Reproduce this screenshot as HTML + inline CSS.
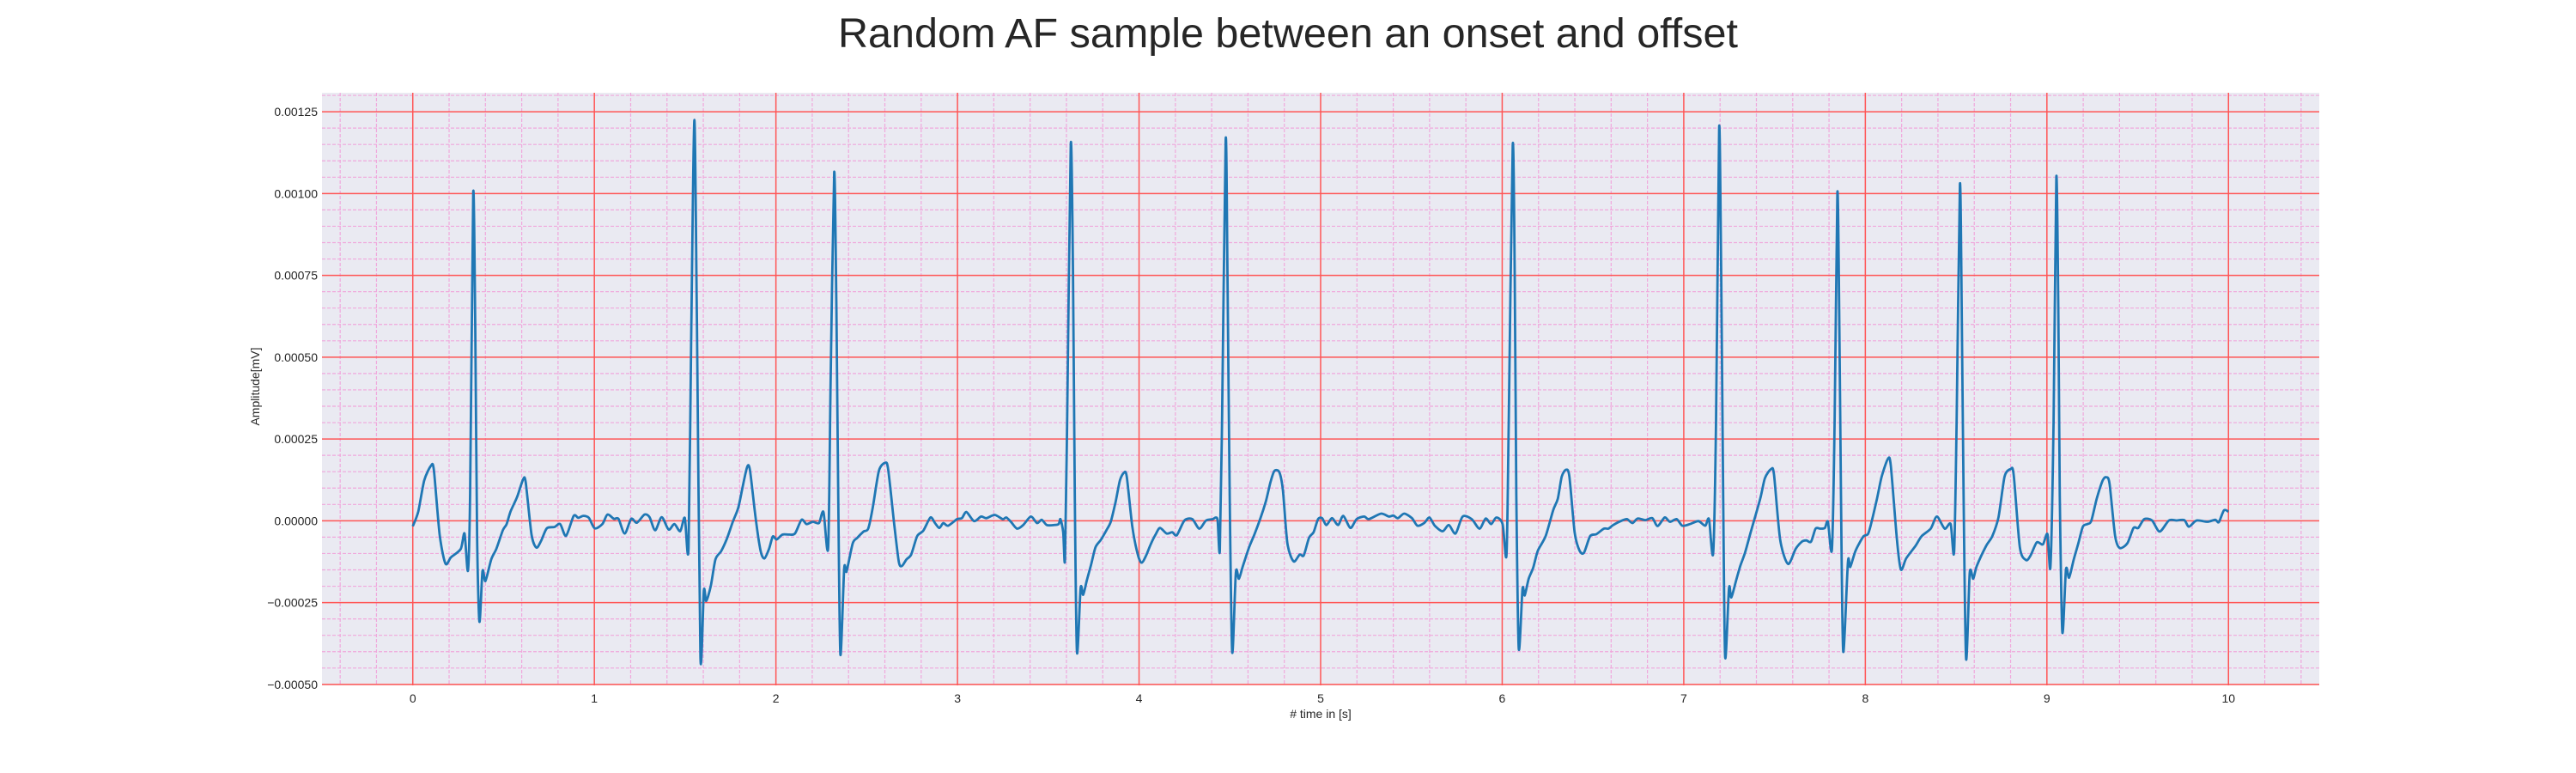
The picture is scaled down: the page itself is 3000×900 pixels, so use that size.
<!DOCTYPE html>
<html><head><meta charset="utf-8"><style>
html,body{margin:0;padding:0;background:#fff;}
svg{display:block;font-family:"Liberation Sans",sans-serif;}
</style></head><body>
<svg id="chart" width="3000" height="900" viewBox="0 0 3000 900" xmlns="http://www.w3.org/2000/svg">
<text x="1500" y="55" text-anchor="middle" font-size="48.5" fill="#262626">Random AF sample between an onset and offset</text>
<rect x="375" y="108" width="2326" height="690" fill="#eaeaf2"/>
<g id="minor-grid"></g>
<g id="major-grid"></g>
<g id="x-ticks"></g>
<g id="y-ticks"></g>
<g id="series"></g>
<text x="1538" y="836" text-anchor="middle" font-size="14" fill="#262626"># time in [s]</text>
<text x="302" y="450" text-anchor="middle" font-size="14" fill="#262626" transform="rotate(-90 302 450)">Amplitude[mV]</text>
</svg>
<script>
// time in seconds
const times = [0,0.03,0.063,0.1,0.116,0.148,0.18,0.21,0.264,0.285,0.304,0.316,0.333,0.344,0.354,0.367,0.384,0.40,0.432,0.46,0.496,0.517,0.538,0.574,0.608,0.622,0.654,0.681,0.707,0.738,0.78,0.812,0.844,0.886,0.911,0.939,0.97,1.002,1.044,1.072,1.108,1.133,1.167,1.203,1.234,1.276,1.304,1.335,1.371,1.409,1.441,1.473,1.498,1.519,1.534,1.551,1.565,1.584,1.603,1.616,1.641,1.667,1.698,1.73,1.762,1.793,1.819,1.842,1.857,1.888,1.916,1.937,1.962,1.983,2.004,2.036,2.072,2.105,2.141,2.169,2.203,2.237,2.262,2.288,2.301,2.321,2.333,2.343,2.355,2.376,2.389,2.423,2.448,2.482,2.508,2.533,2.567,2.601,2.618,2.652,2.677,2.694,2.719,2.745,2.778,2.812,2.851,2.876,2.9,2.922,2.948,2.998,3.024,3.049,3.091,3.13,3.159,3.205,3.249,3.269,3.294,3.328,3.362,3.404,3.438,3.464,3.492,3.531,3.557,3.567,3.582,3.592,3.604,3.624,3.636,3.646,3.658,3.678,3.692,3.712,3.734,3.76,3.79,3.819,3.844,3.87,3.895,3.917,3.932,3.963,3.993,4.014,4.039,4.064,4.09,4.115,4.152,4.183,4.208,4.25,4.293,4.332,4.369,4.406,4.423,4.433,4.445,4.457,4.477,4.487,4.499,4.513,4.533,4.55,4.572,4.606,4.636,4.67,4.699,4.724,4.745,4.772,4.792,4.817,4.851,4.885,4.907,4.936,4.961,4.986,5.008,5.032,5.063,5.096,5.125,5.164,5.198,5.24,5.266,5.333,5.376,5.401,5.426,5.46,5.503,5.533,5.57,5.599,5.629,5.672,5.706,5.743,5.782,5.832,5.875,5.909,5.939,5.968,6.002,6.024,6.036,6.058,6.069,6.078,6.091,6.112,6.124,6.146,6.171,6.196,6.239,6.281,6.306,6.328,6.352,6.37,6.399,6.425,6.45,6.484,6.518,6.56,6.585,6.611,6.653,6.687,6.717,6.746,6.788,6.827,6.856,6.895,6.924,6.961,6.992,7.034,7.081,7.118,7.139,7.162,7.178,7.195,7.206,7.217,7.228,7.249,7.262,7.288,7.311,7.337,7.371,7.421,7.447,7.481,7.497,7.531,7.574,7.616,7.65,7.675,7.701,7.726,7.751,7.777,7.794,7.816,7.831,7.846,7.856,7.866,7.878,7.904,7.917,7.946,7.988,8.014,8.03,8.064,8.09,8.124,8.14,8.174,8.196,8.225,8.276,8.31,8.36,8.394,8.437,8.47,8.489,8.503,8.521,8.531,8.541,8.555,8.575,8.594,8.614,8.665,8.699,8.733,8.767,8.8,8.817,8.851,8.885,8.91,8.944,8.978,9.003,9.02,9.037,9.052,9.063,9.071,9.085,9.105,9.122,9.147,9.173,9.198,9.223,9.244,9.274,9.308,9.328,9.345,9.376,9.401,9.443,9.477,9.503,9.536,9.579,9.621,9.672,9.714,9.757,9.782,9.824,9.884,9.927,9.947,9.975,10.0];
// amplitude in units of 1e-4 mV
const amps = [-0.17,0.28,1.23,1.68,1.55,-0.42,-1.31,-1.12,-0.86,-0.39,-1.52,0.85,10.0,5.9,-0.42,-3.08,-1.54,-1.84,-1.18,-0.86,-0.29,-0.10,0.28,0.72,1.27,1.17,-0.42,-0.82,-0.61,-0.23,-0.19,-0.10,-0.46,0.15,0.09,0.15,0.09,-0.23,-0.10,0.19,0.06,0.06,-0.39,0.06,-0.06,0.19,0.11,-0.29,0.11,-0.27,-0.10,-0.32,0.09,-0.82,5.93,12.25,5.93,-4.14,-2.13,-2.45,-2.0,-1.18,-0.93,-0.55,-0.04,0.41,1.10,1.65,1.55,0.09,-0.93,-1.15,-0.86,-0.48,-0.57,-0.42,-0.42,-0.39,0.03,-0.1,-0.03,-0.07,0.27,-0.81,4.19,10.65,6.47,0.78,-4.08,-1.47,-1.55,-0.69,-0.52,-0.33,-0.24,0.39,1.52,1.77,1.58,-0.13,-1.26,-1.38,-1.18,-1.03,-0.47,-0.3,0.1,-0.07,-0.22,-0.07,-0.15,0.05,0.08,0.27,-0.01,0.13,0.08,0.18,0.05,0.1,-0.03,-0.24,-0.13,0.13,-0.07,0.03,-0.13,-0.13,-0.1,0.05,-0.35,-1.17,3.06,11.5,7.6,0.78,-4.01,-2.06,-2.26,-1.83,-1.38,-0.81,-0.58,-0.3,-0.03,0.56,1.24,1.47,1.35,-0.18,-1.03,-1.28,-1.06,-0.72,-0.43,-0.22,-0.39,-0.35,-0.44,0.01,0.05,-0.24,0.01,0.05,0.1,-0.01,-0.9,3.06,11.64,7.6,0.78,-4.01,-1.58,-1.77,-1.38,-0.81,-0.41,0.1,0.61,1.18,1.52,1.49,0.95,-0.69,-1.24,-1.03,-1.06,-0.52,-0.35,0.05,0.08,-0.13,0.08,-0.13,0.15,-0.22,0.05,0.13,0.05,0.22,0.13,0.16,0.08,0.22,0.08,-0.15,-0.07,0.1,-0.15,-0.32,-0.13,-0.39,0.13,0.05,-0.24,0.07,-0.1,0.1,-0.1,-1.03,3.06,11.47,7.6,0.78,-3.9,-2.08,-2.28,-1.77,-1.43,-0.92,-0.47,0.33,0.67,1.35,1.56,1.35,-0.35,-0.9,-0.98,-0.47,-0.41,-0.24,-0.24,-0.13,-0.01,0.05,-0.07,0.07,0.02,0.08,-0.16,0.1,-0.03,0.05,-0.15,-0.1,-0.01,-0.15,0.05,-0.98,3.06,12.01,7.6,0.78,-4.16,-2.06,-2.34,-1.83,-1.38,-0.98,-0.3,0.67,1.3,1.58,1.41,-0.58,-1.32,-0.86,-0.64,-0.6,-0.64,-0.24,-0.24,-0.22,-0.03,-0.86,3.06,10.02,6.47,0.78,-3.99,-1.26,-1.41,-0.92,-0.49,-0.41,-0.13,0.67,1.35,1.89,1.69,-0.58,-1.49,-1.15,-0.77,-0.47,-0.24,0.13,-0.24,-0.1,-0.94,3.06,10.27,6.47,0.78,-4.22,-1.6,-1.77,-1.38,-0.77,-0.47,0.1,1.35,1.58,1.41,-0.81,-1.2,-1.06,-0.66,-0.72,-0.41,-1.38,3.06,10.5,6.47,0.78,-3.4,-1.49,-1.74,-1.2,-0.69,-0.18,-0.1,-0.01,0.67,1.24,1.33,1.13,-0.47,-0.83,-0.69,-0.22,-0.22,0.05,0.01,-0.33,0.01,0.01,0.02,-0.18,0.01,-0.03,0.03,-0.04,0.32,0.28];
const xTickLabels = ["0","1","2","3","4","5","6","7","8","9","10"];
const yTickLabels = ["\u22120.00050","\u22120.00025","0.00000","0.00025","0.00050","0.00075","0.00100","0.00125"];
const yTickValues = [-0.0005,-0.00025,0,0.00025,0.0005,0.00075,0.001,0.00125];

const X0=375, X1=2701, Y0=108, Y1=798;
const xMin=-0.5, xMax=10.5, yMin=-0.000503, yMax=0.001308;
const xs = t => X0 + (t - xMin) / (xMax - xMin) * (X1 - X0);
const ys = v => Y1 - (v - yMin) / (yMax - yMin) * (Y1 - Y0);
const NS="http://www.w3.org/2000/svg";
function mk(tag, parent){const e=document.createElementNS(NS,tag);parent.appendChild(e);return e;}

const minor=document.getElementById('minor-grid');
for(let i=-2;i<=52;i++){const t=i*0.2; if(i%5===0) continue; const x=xs(t); if(x<X0||x>X1) continue;
  const l=mk('line',minor);
  
  
  l.setAttribute('x1',x);l.setAttribute('x2',x);l.setAttribute('y1',Y0);l.setAttribute('y2',Y1);
  l.setAttribute('stroke','#f0a8dc');l.setAttribute('stroke-width','1.2');l.setAttribute('stroke-dasharray','4 2');}
for(let i=-10;i<=26;i++){if(i%5===0) continue; const v=i*0.00005; const y=ys(v); if(y<Y0||y>Y1) continue;
  const l=mk('line',minor);
  
  
  l.setAttribute('x1',X0);l.setAttribute('x2',X1);l.setAttribute('y1',y);l.setAttribute('y2',y);
  l.setAttribute('stroke','#f0a8dc');l.setAttribute('stroke-width','1.2');l.setAttribute('stroke-dasharray','4 2');}

const major=document.getElementById('major-grid');
const xt=document.getElementById('x-ticks');
xTickLabels.forEach((lab,i)=>{const x=xs(+lab);
  const l=mk('line',major);
  
  
  l.setAttribute('x1',x);l.setAttribute('x2',x);l.setAttribute('y1',Y0);l.setAttribute('y2',Y1);
  l.setAttribute('stroke','#f55');l.setAttribute('stroke-width','1.5');
  const tx=mk('text',xt);
  
  
  tx.setAttribute('x',x);tx.setAttribute('y',Y1+20);tx.setAttribute('text-anchor','middle');
  tx.setAttribute('font-size','14');tx.setAttribute('fill','#262626');tx.textContent=lab;});
const yt=document.getElementById('y-ticks');
yTickValues.forEach((v,i)=>{const y=ys(v);
  const l=mk('line',major);
  
  
  l.setAttribute('x1',X0);l.setAttribute('x2',X1);l.setAttribute('y1',y);l.setAttribute('y2',y);
  l.setAttribute('stroke','#f55');l.setAttribute('stroke-width','1.5');
  const tx=mk('text',yt);
  
  
  tx.setAttribute('x',X0-5);tx.setAttribute('y',y+5);tx.setAttribute('text-anchor','end');
  tx.setAttribute('font-size','14');tx.setAttribute('fill','#262626');tx.textContent=yTickLabels[i];});

// series path (Catmull-Rom smoothing)
const pts=times.map((t,i)=>[xs(t),ys(amps[i]*1e-4)]);
let d='M'+pts[0][0].toFixed(1)+','+pts[0][1].toFixed(1);
for(let i=0;i<pts.length-1;i++){
  const p0=pts[Math.max(0,i-1)],p1=pts[i],p2=pts[i+1],p3=pts[Math.min(pts.length-1,i+2)];
  const k=1/6*0.8;
  const c1=[p1[0]+(p2[0]-p0[0])*k,p1[1]+(p2[1]-p0[1])*k];
  const c2=[p2[0]-(p3[0]-p1[0])*k,p2[1]-(p3[1]-p1[1])*k];
  d+='C'+c1[0].toFixed(1)+','+c1[1].toFixed(1)+' '+c2[0].toFixed(1)+','+c2[1].toFixed(1)+' '+p2[0].toFixed(1)+','+p2[1].toFixed(1);
}
const path=mk('path',document.getElementById('series'));


path.setAttribute('d',d);path.setAttribute('fill','none');path.setAttribute('stroke','#1f77b4');
path.setAttribute('stroke-width','2.8');path.setAttribute('stroke-linejoin','round');
</script>
</body></html>
